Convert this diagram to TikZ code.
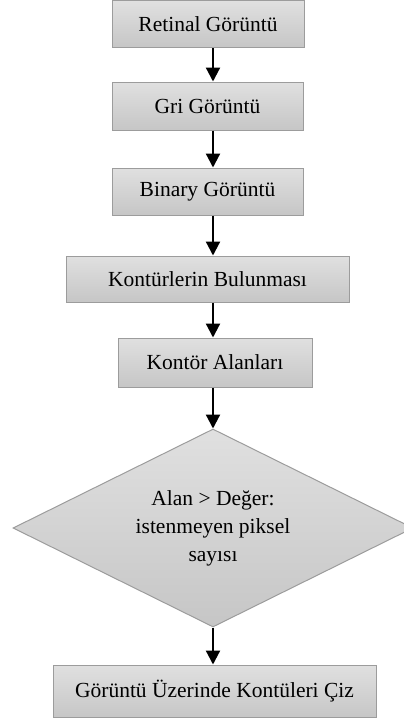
\documentclass[tikz,border=0pt]{standalone}
\usepackage{fontspec}
\setmainfont{Liberation Serif}
\usetikzlibrary{shapes.geometric,arrows.meta}
\definecolor{boxtop}{HTML}{E0E0E0}
\definecolor{boxbot}{HTML}{C6C6C6}
\definecolor{boxline}{HTML}{9C9C9C}
\tikzset{
  procbox/.style={draw=boxline, line width=1pt, top color=boxtop, bottom color=boxbot, inner sep=0pt, font=\fontsize{21.5}{26}\selectfont},
  decbox/.style={diamond, aspect=2, draw=boxline, line width=1pt, top color=boxtop, bottom color=boxbot, inner sep=0pt, align=center, font=\fontsize{21.5}{28}\selectfont},
  flow/.style={line width=2.2pt, -{Triangle[width=14pt,length=14pt]}}
}
\begin{document}
\begin{tikzpicture}[x=1pt,y=-1pt]
\useasboundingbox (0,0) rectangle (404,718);
\node[procbox, minimum width=192pt, minimum height=47pt] (b1) at (208,24) {Retinal Görüntü};
\node[procbox, minimum width=191pt, minimum height=48pt] (b2) at (207.5,106) {Gri Görüntü};
\node[procbox, minimum width=191pt, minimum height=47pt] (b3) at (207.5,191.5) {Binary Görüntü};
\node[procbox, minimum width=283pt, minimum height=46pt] (b4) at (207.5,279) {Kontürlerin Bulunması};
\node[procbox, minimum width=194pt, minimum height=49pt] (b5) at (215,362.5) {Kontör Alanları};
\node[decbox, minimum width=400pt, minimum height=198pt] (d1) at (213,528) {Alan > Değer:\\istenmeyen piksel\\sayısı};
\node[procbox, minimum width=323pt, minimum height=52pt] (b6) at (214.5,691) {Görüntü Üzerinde Kontüleri Çiz};
\draw[flow] (b1.south -| 213,0) -- (b2.north -| 213,0);
\draw[flow] (b2.south -| 213,0) -- (b3.north -| 213,0);
\draw[flow] (b3.south -| 213,0) -- (b4.north -| 213,0);
\draw[flow] (b4.south -| 213,0) -- (b5.north -| 213,0);
\draw[flow] (b5.south -| 213,0) -- (d1.north);
\draw[flow] (d1.south) -- (b6.north -| 213,0);
\end{tikzpicture}
\end{document}
